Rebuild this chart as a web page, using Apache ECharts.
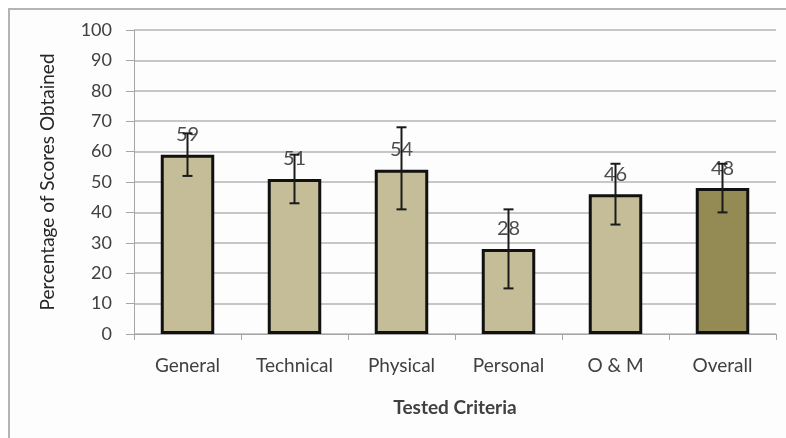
<!DOCTYPE html>
<html>
<head>
<meta charset="utf-8">
<script src="https://cdn.jsdelivr.net/npm/echarts@6/dist/echarts.min.js"></script>
<style>
  html, body { margin: 0; padding: 0; background: #fff; }
  .frame {
    position: absolute;
    left: 8px; top: 8px; right: 0; bottom: 0;
    border-left: 2px solid #b4b4b4;
    border-top: 2px solid #b4b4b4;
    background: #fdfdfd;
  }
  #chart { position: absolute; left: 0; top: 0; width: 786px; height: 438px; }
</style>
</head>
<body>
<div class="frame"></div>
<div id="chart"></div>
<script>
// 資料
const categories = ["General", "Technical", "Physical", "Personal", "O & M", "Overall"];
const scores = [59, 51, 54, 28, 46, 48];
const errLow = [52, 43, 41, 15, 36, 40];
const errHigh = [66, 59, 68, 41, 56, 56];
const barColors = ["#C4BD97", "#C4BD97", "#C4BD97", "#C4BD97", "#C4BD97", "#948A54"];

const chart = echarts.init(document.getElementById("chart"));

const option = {
  animation: false,
  grid: { left: 134, right: 10, top: 30, bottom: 104 },
  xAxis: {
    type: "category",
    data: categories,
    name: "Tested Criteria",
    nameLocation: "middle",
    nameGap: 64,
    nameTextStyle: { fontFamily: "Lato", fontSize: 19, fontWeight: "bold", color: "#404040" },
    axisLine: { lineStyle: { color: "#a6a6a6", width: 1 } },
    axisTick: { show: true, length: 6, lineStyle: { color: "#a6a6a6" } },
    axisLabel: { fontFamily: "Lato", fontSize: 19, color: "#404040", margin: 22 },
  },
  yAxis: {
    type: "value",
    min: 0,
    max: 100,
    interval: 10,
    name: "Percentage of Scores Obtained",
    nameLocation: "middle",
    nameGap: 77,
    nameTextStyle: { fontFamily: "Lato", fontSize: 19, color: "#262626" },
    axisLine: { show: true, lineStyle: { color: "#a6a6a6", width: 1 } },
    axisTick: { show: true, inside: false, length: 8, lineStyle: { color: "#a6a6a6" } },
    axisLabel: { fontFamily: "Lato", fontSize: 18, color: "#404040", margin: 22 },
    splitLine: { lineStyle: { color: "#b4b4b4", width: 1.5 } },
  },
  series: [
    {
      type: "bar",
      barWidth: "50%",
      data: scores.map((v, i) => ({
        value: v,
        itemStyle: { color: barColors[i] },
      })),
      itemStyle: { borderColor: "#111", borderWidth: 3 },
      label: {
        show: true,
        position: "top",
        distance: 10,
        fontFamily: "Lato",
        fontSize: 20,
        color: "#4d4d4d",
      },
      z: 2,
    },
    {
      // 誤差線
      type: "custom",
      data: categories.map((c, i) => [i, errLow[i], errHigh[i]]),
      renderItem: (params, api) => {
        const lo = api.coord([api.value(0), api.value(1)]);
        const hi = api.coord([api.value(0), api.value(2)]);
        const half = 5;
        const style = { stroke: "#1a1a1a", lineWidth: 2 };
        return {
          type: "group",
          children: [
            { type: "line", shape: { x1: lo[0], y1: lo[1], x2: hi[0], y2: hi[1] }, style },
            { type: "line", shape: { x1: lo[0] - half, y1: lo[1], x2: lo[0] + half, y2: lo[1] }, style },
            { type: "line", shape: { x1: hi[0] - half, y1: hi[1], x2: hi[0] + half, y2: hi[1] }, style },
          ],
        };
      },
      z: 3,
    },
  ],
};

chart.setOption(option);
</script>
</body>
</html>
